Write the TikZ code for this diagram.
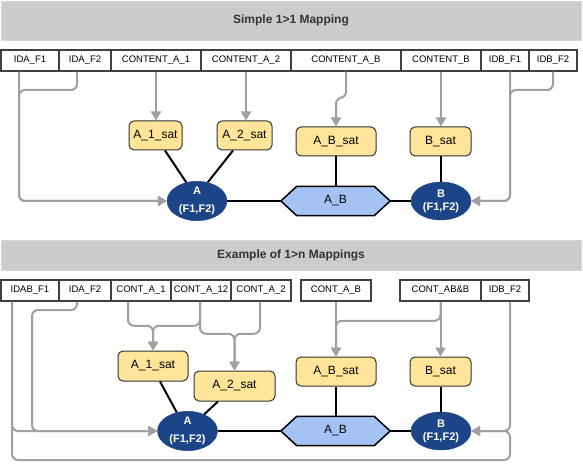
\documentclass[tikz,border=0pt]{standalone}
\usepackage{fontspec}
\setmainfont{Liberation Sans}
\usetikzlibrary{arrows.meta,shapes.geometric,backgrounds}
\definecolor{titlefill}{HTML}{CCCCCC}
\definecolor{titleedge}{HTML}{D6D6D6}
\definecolor{titletext}{HTML}{333333}
\definecolor{cellborder}{HTML}{404040}
\definecolor{satfill}{HTML}{FFE599}
\definecolor{entfill}{HTML}{1C4587}
\definecolor{relfill}{HTML}{A4C2F4}
\definecolor{linkgray}{HTML}{A0A0A0}
\begin{document}
\begin{tikzpicture}[x=1pt,y=-1pt,
 titlebar/.style={draw=titleedge, fill=titlefill, text=titletext, font=\fontsize{12}{14}\selectfont\bfseries, minimum width=580pt, inner sep=0pt},
 cell/.style={draw=cellborder, line width=1.5pt, fill=white, font=\fontsize{9.5}{11}\selectfont, minimum height=21pt, inner sep=0pt},
 sat/.style={draw=black!80, line width=1pt, fill=satfill, rounded corners=5pt, font=\fontsize{12}{14}\selectfont, inner sep=0pt},
 ent/.style={ellipse, fill=entfill, draw=entfill, text=white, font=\fontsize{11}{13}\selectfont\bfseries, minimum width=60pt, minimum height=38pt, inner sep=0pt, align=center},
 rel/.style={font=\fontsize{12}{14}\selectfont, minimum width=109pt, minimum height=29pt, inner sep=0pt},
 hexline/.style={draw=black, line width=1.5pt, fill=relfill, line join=miter},
 link/.style={draw=linkgray, line width=2pt, rounded corners=6pt, -{Triangle[length=9pt,width=10pt]}},
 bline/.style={draw=black, line width=2pt}
]
\useasboundingbox (0,0) rectangle (583,470);

% ---------- Part 1 ----------
\node[titlebar, minimum height=39pt] (t1) at (291,20.5) {Simple 1>1 Mapping};

\node[cell, minimum width=58pt]  (c1a) at (30,60.5)  {IDA\_F1};
\node[cell, minimum width=52pt]  (c1b) at (85,60.5)  {IDA\_F2};
\node[cell, minimum width=90pt]  (c1c) at (156,60.5) {CONTENT\_A\_1};
\node[cell, minimum width=90pt]  (c1d) at (246,60.5) {CONTENT\_A\_2};
\node[cell, minimum width=110pt] (c1e) at (346,60.5) {CONTENT\_A\_B};
\node[cell, minimum width=80pt]  (c1f) at (441,60.5) {CONTENT\_B};
\node[cell, minimum width=48pt]  (c1g) at (505,60.5) {IDB\_F1};
\node[cell, minimum width=48pt]  (c1h) at (553,60.5) {IDB\_F2};

\node[sat, minimum width=53pt, minimum height=29pt] (s1a) at (155.5,135.5) {A\_1\_sat};
\node[sat, minimum width=55pt, minimum height=29pt] (s1b) at (244.5,135.5) {A\_2\_sat};
\node[sat, minimum width=80pt, minimum height=29pt] (s1c) at (336,141.5) {A\_B\_sat};
\node[sat, minimum width=61pt, minimum height=29pt] (s1d) at (440.5,141.5) {B\_sat};

\node[ent] (e1a) at (197,201) {A\\[5pt](F1,F2)};
\node[ent] (e1b) at (441,201) {B\\(F1,F2)};
\node[rel] (h1) at (335.5,201) {A\_B};
\begin{pgfonlayer}{background}
\path[hexline] (h1.west) -- ([xshift=16pt]h1.north west) -- ([xshift=-16pt]h1.north east) -- (h1.east) -- ([xshift=-16pt]h1.south east) -- ([xshift=16pt]h1.south west) -- cycle;
\end{pgfonlayer}

\draw[link] ([xshift=-11pt]c1a.south) |- (e1a.west);
\draw[link] ([xshift=-8pt]c1b.south) |- (19,90) |- (e1a.west);
\draw[link] (c1c.south) -- (c1c.south |- s1a.north);
\draw[link] (c1d.south) -- (c1d.south |- s1b.north);
\draw[link] (c1e.south) -- ++(0,26) -| (s1c.north);
\draw[link] (c1f.south) -- (c1f.south |- s1d.north);
\draw[link] ([xshift=5pt]c1g.south) |- (e1b.east);
\draw[link] (c1h.south) |- (510,90) |- (e1b.east);

\draw[bline] ([xshift=9.5pt]s1a.south) -- (e1a.120);
\draw[bline] ([xshift=-11.5pt]s1b.south) -- (e1a.60);
\draw[bline] (s1c.south) -- (s1c.south |- h1.north);
\draw[bline] (s1d.south) -- (s1d.south |- e1b.north);
\draw[bline] (e1a.east) -- (h1.west);
\draw[bline] (h1.east) -- (e1b.west);

% ---------- Part 2 ----------
\node[titlebar, minimum height=30pt] (t2) at (291,255) {Example of 1>n Mappings};

\node[cell, minimum width=58pt] (c2a) at (30,290.5)    {IDAB\_F1};
\node[cell, minimum width=52pt] (c2b) at (85,290.5)    {IDA\_F2};
\node[cell, minimum width=60pt] (c2c) at (141,290.5)   {CONT\_A\_1};
\node[cell, minimum width=60pt] (c2d) at (201,290.5)   {CONT\_A\_12};
\node[cell, minimum width=60pt] (c2e) at (261,290.5)   {CONT\_A\_2};
\node[cell, minimum width=70pt] (c2f) at (336,290.5)   {CONT\_A\_B};
\node[cell, minimum width=81pt] (c2g) at (440.5,290.5) {CONT\_AB\&B};
\node[cell, minimum width=48pt] (c2h) at (505,290.5)   {IDB\_F2};

\node[sat, minimum width=70pt, minimum height=30pt] (s2a) at (153,366) {A\_1\_sat};
\node[sat, minimum width=81pt, minimum height=30pt] (s2b) at (234.5,386) {A\_2\_sat};
\node[sat, minimum width=80pt, minimum height=29pt] (s2c) at (336,371.5) {A\_B\_sat};
\node[sat, minimum width=61pt, minimum height=29pt] (s2d) at (440.5,371.5) {B\_sat};

\node[ent] (e2a) at (187.5,431) {A\\[5pt](F1,F2)};
\node[ent] (e2b) at (441,431) {B\\(F1,F2)};
\node[rel] (h2) at (335.5,431) {A\_B};
\begin{pgfonlayer}{background}
\path[hexline] (h2.west) -- ([xshift=16pt]h2.north west) -- ([xshift=-16pt]h2.north east) -- (h2.east) -- ([xshift=-16pt]h2.south east) -- ([xshift=16pt]h2.south west) -- cycle;
\end{pgfonlayer}

\draw[link] ([xshift=-18pt]c2a.south) |- (e2a.west);
\draw[link] ([xshift=-18pt]c2a.south) |- (510,460) |- (e2b.east);
\draw[link] ([xshift=-8pt]c2b.south) |- (32,310) |- (e2a.west);
\draw[link] ([xshift=-13pt]c2c.south) -- ++(0,24) -| (s2a.north);
\draw[link] ([xshift=-1pt]c2d.south) -- ++(0,24) -| (s2a.north);
\draw[link] ([xshift=-1pt]c2d.south) -- ++(0,32) -| (s2b.north);
\draw[link] ([xshift=-1pt]c2e.south) -- ++(0,32) -| (s2b.north);
\draw[link] (c2f.south) -- (s2c.north);
\draw[link] (c2g.south) -- (c2g.south |- s2d.north);
\draw[link] (c2g.south) -- ++(0,19) -| (s2c.north);
\draw[link] ([xshift=5pt]c2h.south) |- (e2b.east);

\draw[bline] ([xshift=7pt]s2a.south) -- (e2a.120);
\draw[bline] ([xshift=-16.5pt]s2b.south) -- (e2a.45);
\draw[bline] (s2c.south) -- (s2c.south |- h2.north);
\draw[bline] (s2d.south) -- (s2d.south |- e2b.north);
\draw[bline] (e2a.east) -- (h2.west);
\draw[bline] (h2.east) -- (e2b.west);
\end{tikzpicture}
\end{document}
